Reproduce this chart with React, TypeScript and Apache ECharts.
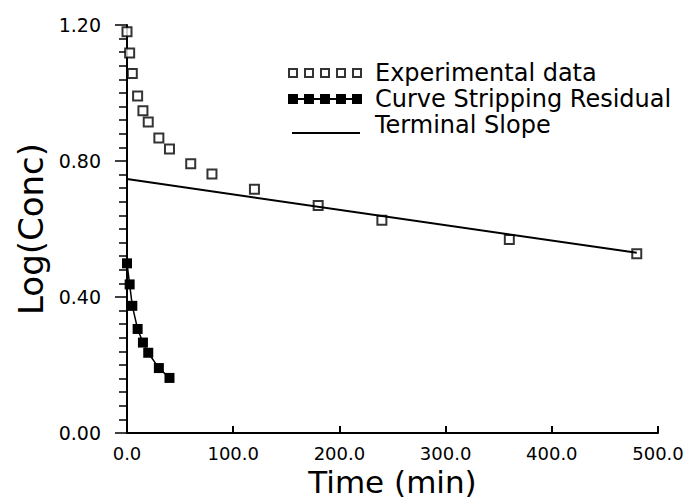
import React, { useEffect, useRef } from "react";
import * as echarts from "echarts";

// Experimental data (time in min, log concentration)
const expTimes = [0, 2.5, 5, 10, 15, 20, 30, 40, 60, 80, 120, 180, 240, 360, 480];
const expLog = [1.18, 1.118, 1.057, 0.991, 0.948, 0.915, 0.868, 0.835, 0.792, 0.762, 0.717, 0.669, 0.626, 0.569, 0.527];

// Curve stripping residual
const resTimes = [0, 2.5, 5, 10, 15, 20, 30, 40];
const resLog = [0.499, 0.437, 0.374, 0.306, 0.266, 0.236, 0.191, 0.162];

// Terminal slope line end points
const termTimes = [0, 480];
const termLog = [0.747, 0.53];

const xTicks = [0, 100, 200, 300, 400, 500];
const yTicks = [0, 0.4, 0.8, 1.2];

const seriesNames = ["Experimental data", "Curve Stripping Residual", "Terminal Slope"];

const FONT = "DejaVu Sans";

function hollowIcon(): string {
  let p = "path://M0,0h0.01v0.01h-0.01Z M0,21.99h0.01v0.01h-0.01Z";
  for (let i = 0; i < 5; i++) {
    const x = 16 * i;
    p += ` M${x},6h10v10h-10Z M${x + 2},8v6h6v-6Z`;
  }
  return p;
}
function filledIcon(): string {
  let p = "path://M0,0h0.01v0.01h-0.01Z M0,21.99h0.01v0.01h-0.01Z";
  for (let i = 0; i < 5; i++) {
    const x = 16 * i;
    p += ` M${x},6h10v10h-10Z`;
    if (i < 4) p += ` M${x + 10},10h6v2h-6Z`;
  }
  return p;
}
function lineIcon(): string {
  return "path://M0,0h0.01v0.01h-0.01Z M73.99,21.99h0.01v0.01h-0.01Z M4,18h68v2h-68Z";
}

export default function App() {
  const ref = useRef<HTMLDivElement>(null);
  useEffect(() => {
    if (!ref.current) return;
    const chart = echarts.init(ref.current, undefined, { renderer: "svg" });
    chart.setOption({
      animation: false,
      backgroundColor: "#fff",
      grid: { left: 127, right: 27, top: 25, bottom: 65, containLabel: false, outerBoundsMode: "none" },
      legend: {
        orient: "vertical",
        left: 288,
        top: 61,
        padding: 0,
        itemWidth: 74,
        itemHeight: 22,
        itemGap: 2,
        selectedMode: false,
        itemStyle: { color: "#000", borderWidth: 0 },
        textStyle: { fontFamily: FONT, fontSize: 24, lineHeight: 22, color: "#000", padding: [0, 0, 0, 8] },
        data: [
          { name: seriesNames[0], icon: hollowIcon() },
          { name: seriesNames[1], icon: filledIcon() },
          { name: seriesNames[2], icon: lineIcon() },
        ],
      },
      xAxis: {
        type: "value",
        min: xTicks[0],
        max: xTicks[xTicks.length - 1],
        interval: 100,
        name: "Time (min)",
        nameLocation: "middle",
        nameGap: 33,
        nameMoveOverlap: false,
        nameTextStyle: { fontFamily: FONT, fontSize: 31, lineHeight: 31, color: "#000", verticalAlign: "top" },
        axisLine: { show: true, onZero: false, lineStyle: { color: "#000", width: 2 } },
        axisTick: { show: true, inside: true, length: 7, lineStyle: { color: "#000", width: 2 } },
        axisLabel: {
          fontFamily: FONT,
          fontSize: 18,
          lineHeight: 18,
          color: "#000",
          margin: 11,
          formatter: (v: number) => v.toFixed(1),
        },
        splitLine: { show: false },
      },
      yAxis: {
        type: "value",
        min: yTicks[0],
        max: yTicks[yTicks.length - 1],
        interval: 0.4,
        name: "Log(Conc)",
        nameLocation: "middle",
        nameGap: 76,
        nameTextStyle: { fontFamily: FONT, fontSize: 34, color: "#000" },
        axisLine: { show: true, onZero: false, lineStyle: { color: "#000", width: 2 } },
        axisTick: { show: true, inside: false, length: 12, lineStyle: { color: "#000", width: 1.5 } },
        minorTick: { show: true, splitNumber: 10, length: 8, lineStyle: { color: "#000", width: 1.5 } },
        axisLabel: {
          fontFamily: FONT,
          fontSize: 19,
          color: "#000",
          margin: 26,
          formatter: (v: number) => v.toFixed(2),
        },
        splitLine: { show: false },
        minorSplitLine: { show: false },
      },
      series: [
        {
          name: seriesNames[0],
          type: "scatter",
          symbol: "rect",
          symbolSize: 9,
          itemStyle: { color: "#fff", borderColor: "#000", borderWidth: 2 },
          data: expTimes.map((t, i) => [t, expLog[i]]),
          z: 2,
        },
        {
          name: seriesNames[1],
          type: "line",
          symbol: "rect",
          symbolSize: 10,
          itemStyle: { color: "#000" },
          lineStyle: { color: "#000", width: 1.5 },
          data: resTimes.map((t, i) => [t, resLog[i]]),
          z: 3,
        },
        {
          name: seriesNames[2],
          type: "line",
          symbol: "none",
          showSymbol: false,
          itemStyle: { color: "#000" },
          lineStyle: { color: "#000", width: 2 },
          data: termTimes.map((t, i) => [t, termLog[i]]),
          z: 4,
        },
      ],
    });
    return () => chart.dispose();
  }, []);
  return (
    <div
      ref={ref}
      style={{ position: "fixed", left: 0, top: 0, width: 685, height: 498, background: "#fff" }}
    />
  );
}
